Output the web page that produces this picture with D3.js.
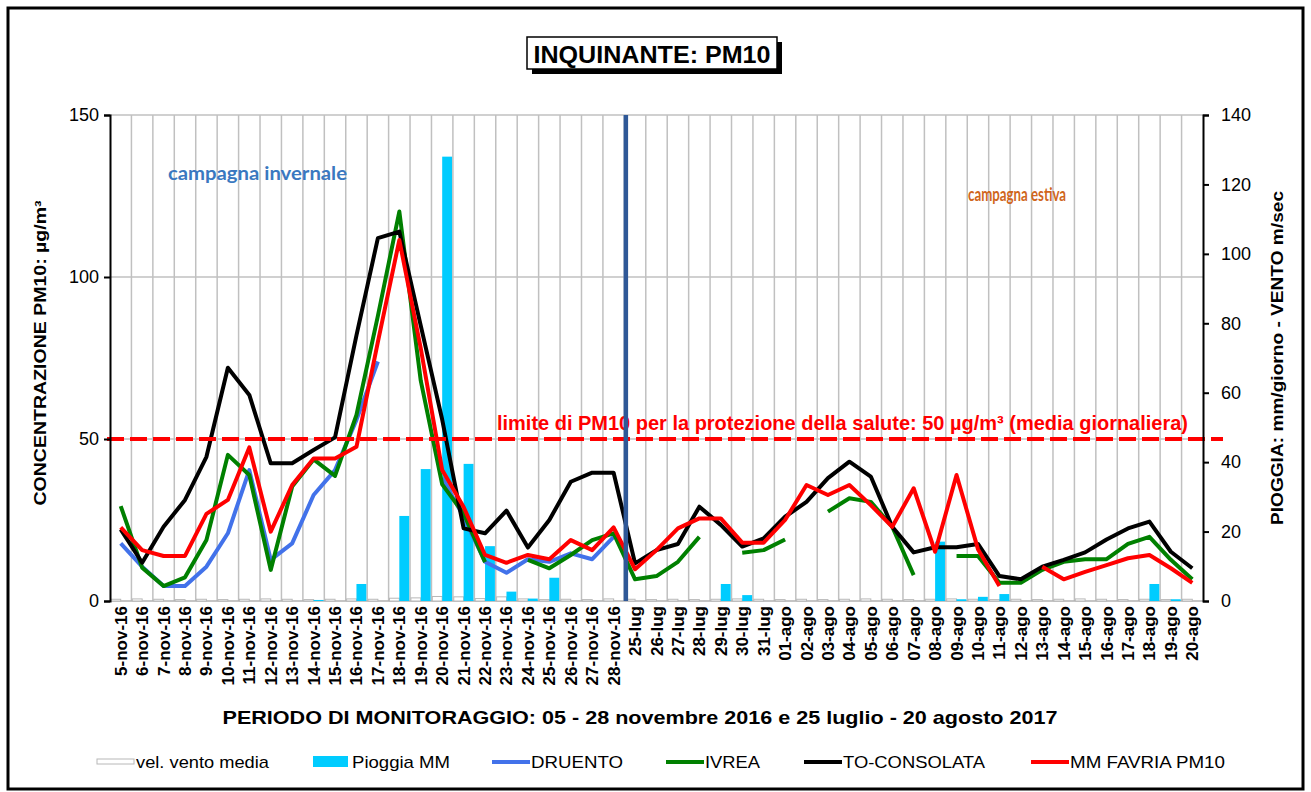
<!DOCTYPE html>
<html>
<head>
<meta charset="utf-8">
<script src="https://cdn.jsdelivr.net/npm/d3@7"></script>
<style>
  body { margin: 0; background: #fff; }
  svg { display: block; font-family: "Liberation Sans", Arial, sans-serif; }
</style>
</head>
<body>
<div id="chart"></div>
<script>
// ---- data ----
var categories = [
    "5-nov-16", "6-nov-16", "7-nov-16", "8-nov-16", "9-nov-16", "10-nov-16", "11-nov-16", "12-nov-16",
    "13-nov-16", "14-nov-16", "15-nov-16", "16-nov-16", "17-nov-16", "18-nov-16", "19-nov-16", "20-nov-16",
    "21-nov-16", "22-nov-16", "23-nov-16", "24-nov-16", "25-nov-16", "26-nov-16", "27-nov-16", "28-nov-16",
    "25-lug", "26-lug", "27-lug", "28-lug", "29-lug", "30-lug", "31-lug",
    "01-ago", "02-ago", "03-ago", "04-ago", "05-ago", "06-ago", "07-ago", "08-ago", "09-ago", "10-ago",
    "11-ago", "12-ago", "13-ago", "14-ago", "15-ago", "16-ago", "17-ago", "18-ago", "19-ago", "20-ago"
];

// vel. vento media (m/sec) - right axis
var vento = [
    0.5, 0.6, 0.5, 0.4, 0.5, 0.4, 0.5, 0.6, 0.5, 0.4, 0.5, 0.6, 0.5, 0.8, 0.9, 1.3, 1.2, 0.7, 1.2, 0.6, 0.4, 0.5, 0.4, 0.6,
    0.5, 0.4, 0.5, 0.4, 0.5, 0.6, 0.5,
    0.4, 0.5, 0.4, 0.5, 0.6, 0.5, 0.4, 0.5, 0.6, 0.5, 0.4, 0.5, 0.4, 0.5, 0.6, 0.5, 0.4, 0.5, 0.4, 0.5
];

// Pioggia MM (mm/giorno) - right axis
var pioggia = [
    0, 0, 0, 0, 0, 0, 0, 0, 0, 0.3, 0, 4.9, 0, 24.5, 38, 128, 39.5, 15.8, 2.7, 0.7, 6.7, 0, 0, 0,
    0, 0, 0, 0, 4.9, 1.7, 0,
    0, 0, 0, 0, 0, 0, 0, 17.1, 0.5, 1.2, 2, 0, 0, 0, 0, 0, 0, 4.9, 0.5, 0
];

// PM10 (µg/m³) - left axis
var druento = [
    17.8, 10.6, 4.6, 4.6, 10.6, 20.9, 40.4, 12.7, 17.8, 32.7, 40.4, 55.9, 73.9, null, null, 38, 26, 12.1, 8.7, 12.9, 12.1, 14.7, 12.9, 19.8,
    null, null, null, null, null, null, null,
    null, null, null, null, null, null, null, null, null, null, null, null, null, null, null, null, null, null, null, null
];

var ivrea = [
    29.3, 10.3, 4.6, 7.3, 18.8, 45.1, 38.9, 9.6, 35.3, 43.7, 38.6, 57.4, 88, 120.2, 68, 36, 27, 12, null, 12.7, 10.1, 14.2, 18.8, 20.9,
    6.7, 7.7, 12.1, 19.8, null, 14.9, 15.7,
    19, null, 27.6, 31.7, 30.6, 22.9, 8, null, 13.9, 13.9, 5.6, 5.6, 9.6, 12.1, 12.9, 12.9, 17.6, 19.8, 12.7, 6.7
];

var toConsolata = [
    22.1, 11.8, 22.9, 31.2, 44.5, 72, 63.6, 42.5, 42.5, 46.6, 50.5, 82, 112, 114, 85, 56, 22.4, 20.9, 27.9, 16.5, 25, 36.8, 39.6, 39.6,
    11.6, 15.7, 17.6, 29.1, 23.5, 16.8, 19.3,
    26, 30.6, 37.9, 43, 38.4, 22.9, 15, 16.6, 16.6, 17.6, 7.7, 6.7, 10.6, 12.7, 15, 19, 22.4, 24.5, 15.2, 10.1
];

var favria = [
    22.7, 15.7, 13.9, 13.9, 26.9, 31.2, 47.4, 21.4, 35.8, 44, 44, 47.6, 80, 111.4, 78, 40.4, 29, 14.2, 11.8, 14.2, 12.9, 18.8, 15.7, 22.7,
    9.8, 15.7, 22.4, 25.5, 25.5, 18, 18,
    25, 35.8, 32.7, 35.8, 29.6, 22.9, 34.8, 15.2, 38.9, 16, 4.6, null, 10.6, 6.7, 9, 11.1, 13.2, 14.2, 10.1, 5.6
];

var leftTicks = [0, 50, 100, 150];
var rightTicks = [0, 20, 40, 60, 80, 100, 120, 140];
var limitValue = 50;
var splitAfter = "28-nov-16";

// ---- drawing ----
var width = 1311, height = 792;
var plotLeft = 110, plotRight = 1203, plotTop = 115, plotBottom = 601;

var svg = d3.select("#chart")
    .append("svg")
    .attr("width", width)
    .attr("height", height);

// outer frame
svg.append("rect")
    .attr("x", 8).attr("y", 8)
    .attr("width", 1295).attr("height", 781)
    .attr("fill", "none")
    .attr("stroke", "#000")
    .attr("stroke-width", 3);

var x = d3.scaleBand().domain(categories).range([plotLeft, plotRight]).padding(0);
var bw = x.bandwidth();
var xc = function(c) { return x(c) + bw / 2; };
var yL = d3.scaleLinear().domain([0, 150]).range([plotBottom, plotTop]);
var yR = d3.scaleLinear().domain([0, 140]).range([plotBottom, plotTop]);

// grid
svg.append("g")
    .selectAll("line")
    .data(categories.slice(1))
    .enter()
    .append("line")
    .attr("x1", function(d) { return x(d); })
    .attr("x2", function(d) { return x(d); })
    .attr("y1", plotTop).attr("y2", plotBottom)
    .attr("stroke", "#c0c0c0")
    .attr("stroke-width", 1.5);

svg.append("g")
    .selectAll("line")
    .data(leftTicks.slice(1))
    .enter()
    .append("line")
    .attr("x1", plotLeft).attr("x2", plotRight)
    .attr("y1", function(d) { return yL(d); })
    .attr("y2", function(d) { return yL(d); })
    .attr("stroke", "#c0c0c0")
    .attr("stroke-width", 1.5);

// bottom line
svg.append("line")
    .attr("x1", plotLeft).attr("x2", plotRight)
    .attr("y1", plotBottom).attr("y2", plotBottom)
    .attr("stroke", "#b0b0b0")
    .attr("stroke-width", 1.5);

// wind bars (hollow, left half of category)
var barW = bw * 0.46;
svg.append("g")
    .selectAll("rect")
    .data(categories)
    .enter()
    .append("rect")
    .attr("x", function(d) { return xc(d) - barW; })
    .attr("y", function(d, i) { return yR(vento[i]); })
    .attr("width", barW)
    .attr("height", function(d, i) { return plotBottom - yR(vento[i]); })
    .attr("fill", "#fff")
    .attr("stroke", "#b8b8b8")
    .attr("stroke-width", 1);

// rain bars (right half of category)
svg.append("g")
    .selectAll("rect")
    .data(categories)
    .enter()
    .append("rect")
    .attr("x", function(d) { return xc(d); })
    .attr("y", function(d, i) { return yR(pioggia[i]); })
    .attr("width", barW)
    .attr("height", function(d, i) { return plotBottom - yR(pioggia[i]); })
    .attr("fill", "#00ccff");

// pm10 lines
var line = d3.line()
    .defined(function(d) { return d[1] != null; })
    .x(function(d) { return xc(d[0]); })
    .y(function(d) { return yL(d[1]); });

var series = [
    { values: druento, color: "#4272ea" },
    { values: ivrea, color: "#008000" },
    { values: toConsolata, color: "#000000" },
    { values: favria, color: "#ff0000" }
];

series.forEach(function(s) {
    svg.append("path")
        .datum(categories.map(function(c, i) { return [c, s.values[i]]; }))
        .attr("d", line)
        .attr("fill", "none")
        .attr("stroke", s.color)
        .attr("stroke-width", 4)
        .attr("stroke-linejoin", "round");
});

// limit line
svg.append("line")
    .attr("x1", 107).attr("x2", 1223)
    .attr("y1", yL(limitValue)).attr("y2", yL(limitValue))
    .attr("stroke", "#ff0000")
    .attr("stroke-width", 4)
    .attr("stroke-dasharray", "17,6");

svg.append("text")
    .attr("x", 497).attr("y", 430)
    .attr("font-size", 21).attr("font-weight", "bold")
    .attr("fill", "#ff0000")
    .attr("textLength", 691).attr("lengthAdjust", "spacingAndGlyphs")
    .text("limite di PM10 per la protezione della salute:  50 µg/m³ (media giornaliera)");

// campaign labels
svg.append("text")
    .attr("x", 168).attr("y", 180)
    .attr("font-family", "Lato, 'Open Sans', sans-serif")
    .attr("font-size", 19).attr("font-weight", "bold")
    .attr("fill", "#3a78c0")
    .attr("textLength", 179).attr("lengthAdjust", "spacingAndGlyphs")
    .text("campagna invernale");

svg.append("text")
    .attr("x", 968).attr("y", 201)
    .attr("font-family", "Lato, 'Open Sans', sans-serif")
    .attr("font-size", 18).attr("font-weight", "bold")
    .attr("fill", "#d0661c")
    .attr("textLength", 98).attr("lengthAdjust", "spacingAndGlyphs")
    .text("campagna estiva");

// axes
var axL = svg.append("g")
    .attr("transform", "translate(" + plotLeft + ",0)")
    .call(d3.axisLeft(yL).tickValues(leftTicks).tickSize(6).tickPadding(5));
var axR = svg.append("g")
    .attr("transform", "translate(" + plotRight + ",0)")
    .call(d3.axisRight(yR).tickValues(rightTicks).tickSize(6).tickPadding(12));

[axL, axR].forEach(function(ax) {
    ax.select(".domain").attr("stroke", "#000").attr("stroke-width", 2);
    ax.selectAll(".tick line").attr("stroke", "#000").attr("stroke-width", 2);
    ax.selectAll(".tick text")
        .attr("font-size", 18)
        .attr("font-family", "'Liberation Sans', Arial, sans-serif")
        .attr("fill", "#000");
});

// x labels
svg.append("g")
    .selectAll("text")
    .data(categories)
    .enter()
    .append("text")
    .attr("transform", function(d) { return "translate(" + (xc(d) + 6) + ",606) rotate(-90)"; })
    .attr("text-anchor", "end")
    .attr("font-size", 17)
    .attr("font-weight", "bold")
    .text(function(d) { return d; });

// split line between campaigns
var splitX = x(splitAfter) + bw + 1.5;
svg.append("line")
    .attr("x1", splitX).attr("x2", splitX)
    .attr("y1", plotTop).attr("y2", plotBottom)
    .attr("stroke", "#2f5897")
    .attr("stroke-width", 4.5);

// axis titles
svg.append("text")
    .attr("transform", "translate(46,353) rotate(-90)")
    .attr("text-anchor", "middle")
    .attr("font-size", 16).attr("font-weight", "bold")
    .attr("textLength", 305).attr("lengthAdjust", "spacingAndGlyphs")
    .text("CONCENTRAZIONE  PM10: µg/m³");

svg.append("text")
    .attr("transform", "translate(1283,358) rotate(-90)")
    .attr("text-anchor", "middle")
    .attr("font-size", 16).attr("font-weight", "bold")
    .attr("textLength", 334).attr("lengthAdjust", "spacingAndGlyphs")
    .text("PIOGGIA: mm/giorno - VENTO  m/sec");

svg.append("text")
    .attr("x", 640).attr("y", 724)
    .attr("text-anchor", "middle")
    .attr("font-size", 19).attr("font-weight", "bold")
    .attr("textLength", 835).attr("lengthAdjust", "spacingAndGlyphs")
    .text("PERIODO DI MONITORAGGIO: 05 - 28 novembre 2016 e 25 luglio - 20 agosto 2017");

// title box
svg.append("rect")
    .attr("x", 532).attr("y", 42).attr("width", 250).attr("height", 32)
    .attr("fill", "#000");
svg.append("rect")
    .attr("x", 527).attr("y", 37).attr("width", 250).attr("height", 32)
    .attr("fill", "#fff").attr("stroke", "#000").attr("stroke-width", 1.5);
svg.append("text")
    .attr("x", 652).attr("y", 63)
    .attr("text-anchor", "middle")
    .attr("font-size", 24).attr("font-weight", "bold")
    .attr("textLength", 237).attr("lengthAdjust", "spacingAndGlyphs")
    .text("INQUINANTE: PM10");

// legend
var legendItems = [
    { label: "vel. vento media", kind: "hollow", color: "#b8b8b8", x: 97, tw: 133 },
    { label: "Pioggia MM", kind: "bar", color: "#00ccff", x: 313, tw: 98 },
    { label: "DRUENTO", kind: "line", color: "#4272ea", x: 492, tw: 92 },
    { label: "IVREA", kind: "line", color: "#008000", x: 666, tw: 55 },
    { label: "TO-CONSOLATA", kind: "line", color: "#000000", x: 804, tw: 142 },
    { label: "MM FAVRIA PM10", kind: "line", color: "#ff0000", x: 1031, tw: 155 }
];
var ly = 762;
var lg = svg.append("g").selectAll("g").data(legendItems).enter().append("g");
lg.each(function(d) {
    var g = d3.select(this);
    if (d.kind === "hollow") {
        g.append("rect").attr("x", d.x).attr("y", ly - 3).attr("width", 37).attr("height", 5)
            .attr("fill", "#fff").attr("stroke", d.color).attr("stroke-width", 1);
    } else if (d.kind === "bar") {
        g.append("rect").attr("x", d.x).attr("y", ly - 6).attr("width", 35).attr("height", 11)
            .attr("fill", d.color);
    } else {
        g.append("line").attr("x1", d.x).attr("x2", d.x + 38).attr("y1", ly).attr("y2", ly)
            .attr("stroke", d.color).attr("stroke-width", 4);
    }
    g.append("text")
        .attr("x", d.x + 39).attr("y", ly + 6)
        .attr("font-size", 17)
        .attr("textLength", d.tw).attr("lengthAdjust", "spacingAndGlyphs")
        .text(d.label);
});
</script>
</body>
</html>
